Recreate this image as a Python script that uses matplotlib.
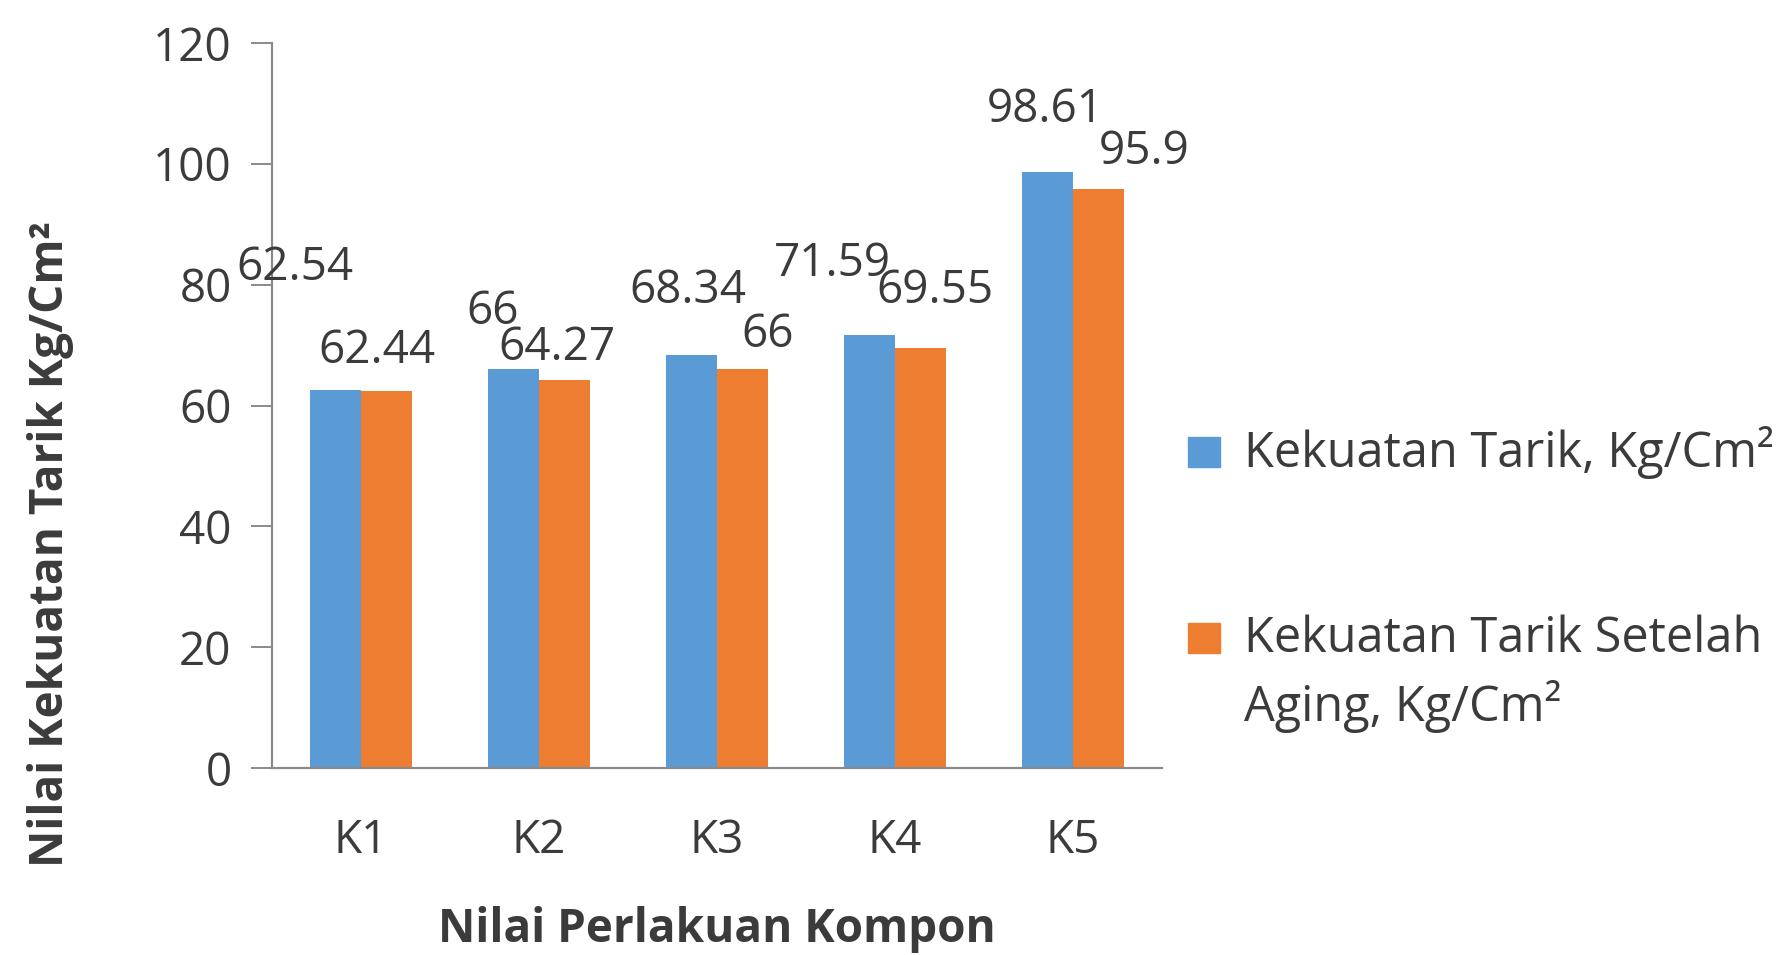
import numpy as np
import matplotlib
matplotlib.use("Agg")
import matplotlib.pyplot as plt
from matplotlib.patches import Rectangle

# ---- data ----
categories = ["K1", "K2", "K3", "K4", "K5"]
tarik = [62.54, 66, 68.34, 71.59, 98.61]
tarik_aging = [62.44, 64.27, 66, 69.55, 95.9]
series_names = ["Kekuatan Tarik, Kg/Cm\u00b2",
                "Kekuatan Tarik Setelah\nAging, Kg/Cm\u00b2"]
yticks = [0, 20, 40, 60, 80, 100, 120]

# label offsets (pixels) as placed in the original chart
off_tarik = [(-41, 122), (-21, 57), (-4, 64), (-37, 71), (-2, 62)]
off_aging = [(-10, 40), (-8, 32), (25, 34), (14, 57), (46, 37)]

BLUE = "#5B9BD5"
ORANGE = "#ED7D31"
TXT = "#3b3b3b"
W, H = 1777, 955
FS = 33

plt.rcParams["font.family"] = ["Open Sans", "DejaVu Sans"]

fig = plt.figure(figsize=(W / 100, H / 100), dpi=100)
ax = fig.add_axes([272 / W, (H - 768) / H, (1162 - 272) / W, (768 - 43) / H])

x = np.arange(len(categories))
bw = 0.287
b1 = ax.bar(x - bw / 2, tarik, bw, color=BLUE)
b2 = ax.bar(x + bw / 2, tarik_aging, bw, color=ORANGE)

for bars, vals, offs in ((b1, tarik, off_tarik), (b2, tarik_aging, off_aging)):
    for r, v, (dx, dy) in zip(bars, vals, offs):
        ax.annotate(f"{v:g}", (r.get_x() + r.get_width() / 2, v),
                    xytext=(dx, dy), textcoords="offset pixels",
                    ha="center", va="center", fontsize=FS, color=TXT)

ax.set_xlim(-0.5, len(categories) - 0.5)
ax.set_ylim(0, 120)
ax.set_yticks(yticks)
ax.set_xticks(x)
ax.set_xticklabels(categories)
ax.tick_params(axis="y", length=15, width=1.4, color="#8a8a8a", pad=14,
               labelsize=FS, labelcolor=TXT)
ax.tick_params(axis="x", length=0, pad=36, labelsize=FS, labelcolor=TXT)
for s in ("top", "right"):
    ax.spines[s].set_visible(False)
for s in ("left", "bottom"):
    ax.spines[s].set_color("#8a8a8a")
    ax.spines[s].set_linewidth(1.6)

fig.text(51 / W, 1 - 544 / H, "Nilai Kekuatan Tarik Kg/Cm\u00b2", rotation=90,
         ha="center", va="center", fontsize=33, fontweight="bold", color=TXT)
fig.text(717 / W, 1 - 929 / H, "Nilai Perlakuan Kompon", ha="center",
         va="center", fontsize=33, fontweight="bold", color=TXT)

# legend
for color, yc in ((BLUE, 452), (ORANGE, 638)):
    fig.add_artist(Rectangle((1188 / W, 1 - (yc + 15) / H), 32 / W, 30 / H,
                             transform=fig.transFigure, color=color))
fig.text(1244 / W, 1 - 452 / H, series_names[0], ha="left", va="center",
         fontsize=35, color=TXT)
fig.text(1244 / W, 1 - 674 / H, series_names[1], ha="left", va="center",
         fontsize=35, color=TXT, linespacing=1.4)

fig.savefig("out.png", dpi=100)
